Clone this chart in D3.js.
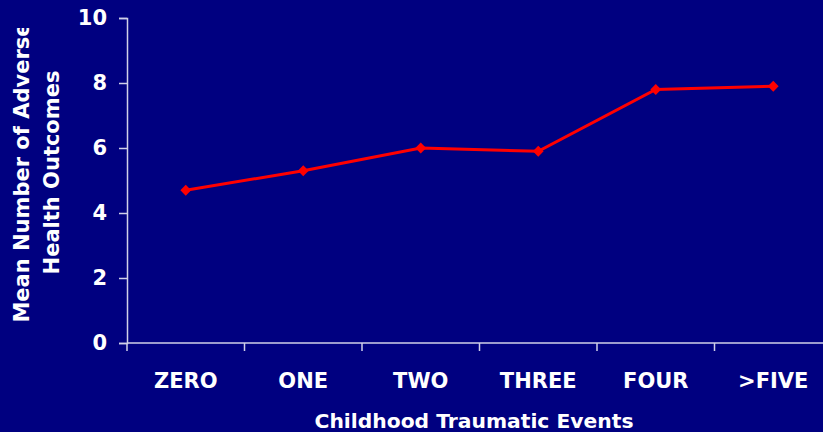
<!DOCTYPE html>
<html>
<head>
<meta charset="utf-8">
<script src="https://cdn.jsdelivr.net/npm/d3@7/dist/d3.min.js"></script>
<style>
  html, body { margin: 0; padding: 0; background: #000080; }
  svg { display: block; }
  text { font-family: "DejaVu Sans", Verdana, sans-serif; font-weight: bold; fill: #ffffff; }
</style>
</head>
<body>
<svg id="chart" width="823" height="432"></svg>
<script>
const categories = ["ZERO", "ONE", "TWO", "THREE", "FOUR", ">FIVE"];
const meanOutcomes = [4.7, 5.3, 6.0, 5.9, 7.8, 7.9];
const yTicks = [0, 2, 4, 6, 8, 10];
const xTitle = "Childhood Traumatic Events";
const yTitleLines = ["Mean Number of Adverse", "Health Outcomes"];

(function () {
const svg = d3.select("#chart");
const W = 823, H = 432;
const mLeft = 127, mRight = 832, mTop = 18, mBottom = 343;
const axisColor = "#d0d0e8";
const FONT = '"DejaVu Sans", Verdana, sans-serif';

svg.append("rect").attr("width", W).attr("height", H).attr("fill", "#000080");

const x = d3.scaleBand().domain(categories).range([mLeft, mRight]).padding(0);
const y = d3.scaleLinear().domain([0, 10]).range([mBottom, mTop]);

// Y axis
const yAxis = svg.append("g")
  .attr("transform", `translate(${mLeft},0)`)
  .call(d3.axisLeft(y).tickValues(yTicks).tickSize(8).tickPadding(12).tickFormat(d3.format("d")));
yAxis.select(".domain").attr("stroke", axisColor).attr("stroke-width", 1.5);
yAxis.selectAll(".tick line").attr("stroke", axisColor).attr("stroke-width", 1.5);
yAxis.selectAll(".tick text")
  .attr("font-size", 21).attr("font-weight", "bold").attr("fill", "#fff")
  .attr("font-family", FONT);

// X axis line and boundary ticks
const xAxis = svg.append("g");
xAxis.append("line")
  .attr("x1", mLeft).attr("x2", mRight).attr("y1", mBottom).attr("y2", mBottom)
  .attr("stroke", axisColor).attr("stroke-width", 1.5);
xAxis.selectAll("line.bt")
  .data(categories)
  .join("line").attr("class", "bt")
  .attr("x1", d => x(d)).attr("x2", d => x(d))
  .attr("y1", mBottom).attr("y2", mBottom + 8)
  .attr("stroke", axisColor).attr("stroke-width", 1.5);
xAxis.selectAll("text.cat")
  .data(categories)
  .join("text").attr("class", "cat")
  .attr("x", d => x(d) + x.bandwidth() / 2)
  .attr("y", 388)
  .attr("text-anchor", "middle")
  .attr("font-size", 21)
  .text(d => d);

// X title
svg.append("text")
  .attr("x", 474).attr("y", 428)
  .attr("text-anchor", "middle")
  .attr("font-size", 20.3)
  .text(xTitle);

// Y title (clipped at top like the original)
svg.append("clipPath").attr("id", "ytclip")
  .append("rect").attr("x", 0).attr("y", 28).attr("width", 100).attr("height", 400);
const yt = svg.append("g").attr("clip-path", "url(#ytclip)");
const yBaselines = [29, 59];
yt.selectAll("text")
  .data(yTitleLines)
  .join("text")
  .attr("transform", (d, i) => `translate(${yBaselines[i]},172.5) rotate(-90)`)
  .attr("text-anchor", "middle")
  .attr("font-size", 21)
  .text(d => d);

// Line
const data = categories.map((c, i) => ({ c, v: meanOutcomes[i] }));
const line = d3.line().x(d => x(d.c) + x.bandwidth() / 2).y(d => y(d.v));
svg.append("path")
  .datum(data)
  .attr("d", line)
  .attr("fill", "none")
  .attr("stroke", "#ff0000")
  .attr("stroke-width", 3);

svg.selectAll("path.mk")
  .data(data)
  .join("path").attr("class", "mk")
  .attr("d", d3.symbol(d3.symbolSquare, 58))
  .attr("transform", d => `translate(${x(d.c) + x.bandwidth() / 2},${y(d.v)}) rotate(45)`)
  .attr("fill", "#ff0000");
})();
</script>
</body>
</html>
